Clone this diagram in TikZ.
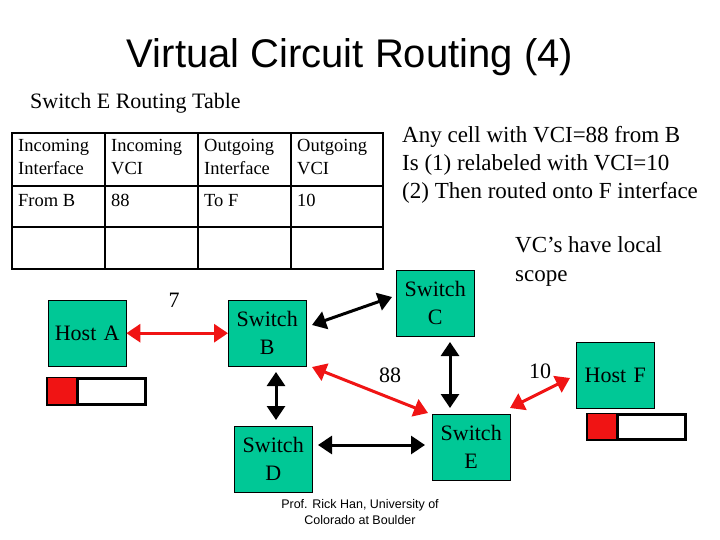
\documentclass[tikz,border=0pt]{standalone}
\usepackage{fontspec}
\setmainfont{Liberation Serif}
\newfontfamily\ttl{Liberation Sans}
\usetikzlibrary{arrows.meta}
\definecolor{grn}{RGB}{0,200,150}
\begin{document}
\begin{tikzpicture}[x=1pt,y=-1pt,
  box/.style={draw=black,fill=grn,minimum width=78pt,minimum height=66pt,inner sep=0pt,font=\fontsize{22}{28}\selectfont,align=center,anchor=north west,text width=78pt},
  blk/.style={line width=3pt,{Triangle[length=14pt,width=18pt]}-{Triangle[length=14pt,width=18pt]}},
  red/.style={blk,draw={rgb,255:red,240;green,20;blue,20},color={rgb,255:red,240;green,20;blue,20}},
  cellt/.style={font=\fontsize{18.5}{23}\selectfont,anchor=north west,align=left,inner sep=0pt},
  lab/.style={font=\fontsize{22}{24}\selectfont,align=left,inner sep=0pt}]
\useasboundingbox[fill=white] (0,0) rectangle (720,540);
\node[font=\ttl\fontsize{40}{42}\selectfont] (title) at (350,57) {Virtual Circuit Routing (4)};
\node[lab,anchor=west] (sub) at (30,103) {Switch E Routing Table};
% table
\draw[line width=2.5pt] (12,133) rectangle (383,269);
\draw[line width=2pt] (12,186) -- (383,186) (12,227) -- (383,227)
  (105,133) -- (105,269) (198,133) -- (198,269) (291,133) -- (291,269);
\node[cellt] (t1) at (18,139) {Incoming\\Interface};
\node[cellt] (t2) at (111,139) {Incoming\\VCI};
\node[cellt] (t3) at (204,139) {Outgoing\\Interface};
\node[cellt] (t4) at (297,139) {Outgoing\\VCI};
\node[cellt] (t5) at (18,194) {From B};
\node[cellt] (t6) at (111,194) {88};
\node[cellt] (t7) at (204,194) {To F};
\node[cellt] (t8) at (297,194) {10};
\node[lab,anchor=north west,font=\fontsize{23}{28}\selectfont] (any) at (402,126) {Any cell with VCI=88 from B\\Is (1) relabeled with VCI=10\\(2) Then routed onto F interface};
\node[lab,anchor=north west,font=\fontsize{23}{29}\selectfont] (vc) at (515,236) {VC’s have local\\scope};
% boxes
\node[box] (A) at (48,300) {Host A};
\node[box] (B) at (228,300) {Switch\\B};
\node[box] (C) at (396,270) {Switch\\C};
\node[box] (D) at (234,426) {Switch\\D};
\node[box] (E) at (432,414) {Switch\\E};
\node[box] (F) at (576,342) {Host F};
% cells
\draw[line width=3pt,fill=white] (47,378) rectangle (145,404);
\fill[red] (49,379.5) rectangle (77,402.5);
\draw[line width=3pt] (77,378) -- (77,404);
\draw[line width=3pt,fill=white] (587,414) rectangle (685,439);
\fill[red] (589,415.5) rectangle (617,437.5);
\draw[line width=3pt] (617,414) -- (617,439);
% connectors
\draw[red] (A.east) -- (B.west);
\draw[blk] (312,325) -- (392,297);
\draw[red] (312,367) -- (428,413);
\draw[blk] (450,342) -- (450,408);
\draw[blk] (318,445) -- (425,445);
\draw[blk] (276,372) -- (276,420);
\draw[red] (510,408) -- (570,378);
\node[lab] (l7) at (174,300) {7};
\node[lab] (l88) at (390,375) {88};
\node[lab] (l10) at (540,371) {10};
\node[font=\ttl\fontsize{12.5}{16}\selectfont,align=center] (foot) at (360,512) {Prof. Rick Han, University of\\Colorado at Boulder};
\end{tikzpicture}
\end{document}
